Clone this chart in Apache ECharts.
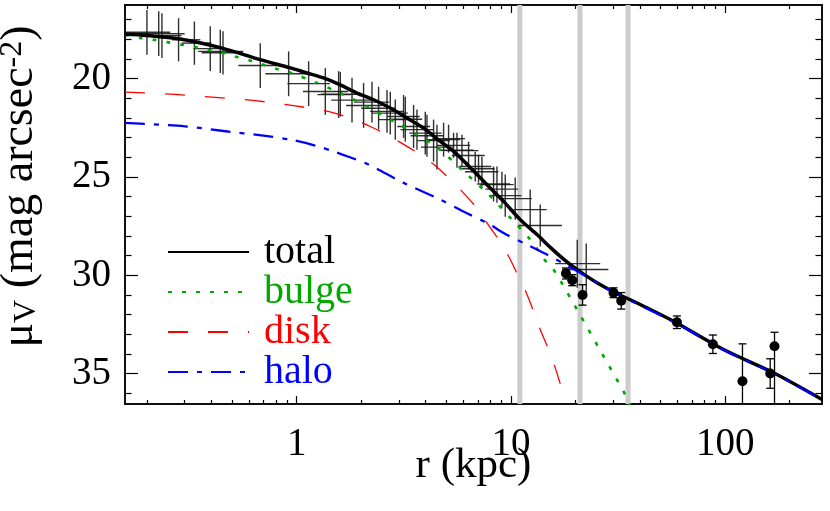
<!DOCTYPE html>
<html><head><meta charset="utf-8">
<script src="https://cdn.jsdelivr.net/npm/echarts@6/dist/echarts.min.js"></script>
<style>html,body{margin:0;padding:0;background:#fff}#c{width:830px;height:511px}</style>
</head><body><div id="c"></div>
<script>
// ---------- tick labels ----------
const xTickLabels = [1, 10, 100];
const xMinorTicks = [0.2,0.3,0.4,0.5,0.6,0.7,0.8,0.9,2,3,4,5,6,7,8,9,20,30,40,50,60,70,80,90,200];
const yTickLabels = [20, 25, 30, 35];
const yMinorTicks = [17,18,19,21,22,23,24,26,27,28,29,31,32,33,34,36];

// ---------- vertical grey bands (r in kpc) ----------
const bandR = [11.0, 21.0, 35.2];

// ---------- model curves ----------
const rTotal  = [0.158,0.2,0.286,0.44,0.676,0.934,1.117,1.334,1.598,1.911,2.284,2.734,3.272,3.909,4.68,5.40,6.5,7.73,9.24,11.05,13.22,15.26,17.6,19.6,22,25.2,30.1,40.1,57.4,98.2,168,283];
const muTotal = [17.74,17.80,17.98,18.42,19.03,19.45,19.71,19.96,20.31,20.73,21.07,21.49,22.00,22.51,23.19,23.70,24.55,25.39,26.24,27.17,27.93,28.58,29.18,29.58,29.97,30.38,30.84,31.49,32.34,33.78,34.96,36.32];

const rBulge  = [0.158,0.186,0.215,0.2525,0.291,0.3425,0.395,0.456,0.527,0.6073,0.70,0.809,0.934,1.244,1.655,2.165,2.833,3.642,4.594,5.907,8.154,10.11,12.30,14.72,15.81,20.32,26.11,34.15,35.8];
const muBulge = [17.76,17.93,18.02,18.15,18.27,18.41,18.56,18.69,18.90,19.08,19.29,19.51,19.69,20.22,20.81,21.46,22.17,22.85,23.55,24.63,26.06,27.17,28.18,29.37,29.71,31.74,33.83,36.07,36.6];

const rDisk  = [0.158,0.2714,0.417,0.641,0.967,1.487,2.205,3.272,4.28,5.03,5.91,6.81,7.73,8.75,9.75,10.73,11.79,12.75,13.70,14.98,16.10,17.11];
const muDisk = [20.68,20.80,20.95,21.12,21.37,21.74,22.43,23.44,24.29,24.97,25.73,26.49,27.34,28.18,29.03,29.96,30.89,31.83,32.76,33.78,34.71,35.64];

const rHalo  = [0.158,0.30,0.456,0.70,0.934,1.22,1.487,1.746,2.088,2.327,3.154,4.68,6.0,7.73,9.5,11.88,14.5,18.25,22,30.1,57.4,98.2,168,283];
const muHalo = [22.25,22.42,22.66,22.90,23.10,23.40,23.70,23.97,24.29,24.54,25.30,26.15,26.76,27.34,27.93,28.44,28.91,29.50,30.00,30.86,32.37,33.80,34.98,36.33];

// ---------- inner data (crosses) ----------
const rIn    = [0.200,0.227,0.235,0.281,0.333,0.395,0.440,0.453,0.676,0.917,1.137,1.360,1.569,1.598,1.812,2.052,2.246,2.411,2.639,2.734,2.885,3.154,3.213,3.512,3.642,3.982,4.055,4.354,4.516,4.848,5.115,5.397,5.598,5.907,6.340,6.813,7.059,7.322,8.295,8.604,9.078,9.406,10.47,12.30,13.70,20.39,22.46];
const muIn   = [17.64,17.71,17.81,18.02,18.19,18.47,18.61,18.68,19.33,19.75,20.25,20.65,20.81,20.79,21.09,21.36,21.19,21.50,21.66,21.75,22.08,21.92,22.06,22.43,22.59,22.77,22.90,23.15,23.48,23.10,23.05,23.39,23.64,23.66,23.91,24.47,24.58,24.73,25.36,25.39,25.62,25.95,26.10,26.66,27.47,29.41,29.71];
const muErrIn= [1.14,1.14,1.14,1.10,1.10,1.14,1.10,1.10,1.14,1.14,1.14,1.19,1.19,1.14,1.14,1.14,1.04,1.09,1.09,1.09,1.02,1.09,1.14,1.09,1.02,1.09,1.07,1.07,1.14,0.86,0.71,0.64,0.89,0.81,0.71,0.76,0.71,0.76,0.89,0.92,0.89,1.07,1.07,1.02,1.07,1.22,1.32];
const rLoIn  = [0.158,0.160,0.190,0.262,0.290,0.330,0.347,0.360,0.534,0.714,0.905,1.07,1.25,1.30,1.45,1.70,1.85,2.00,2.20,2.25,2.40,2.65,2.70,2.95,3.05,3.35,3.40,3.65,3.80,4.05,4.30,4.50,4.70,4.95,5.30,5.70,5.90,6.10,6.95,7.20,7.60,7.90,8.80,10.3,10.8,16.1,17.3];
const rHiIn  = [0.257,0.300,0.290,0.355,0.400,0.470,0.564,0.560,0.866,1.133,1.43,1.74,1.78,1.95,2.25,2.50,2.70,2.90,3.15,3.30,3.45,3.75,3.85,4.20,4.35,4.75,4.85,5.20,5.40,5.80,6.10,6.45,6.70,7.05,7.55,8.10,8.40,8.75,9.90,10.3,10.8,11.2,12.5,14.7,17.3,26.1,28.5];

// ---------- outer data (filled circles) ----------
const rOut    = [18.06,19.32,21.59,30.11,32.71,59.52,87.6,120.4,162.2,169.9];
const muOut   = [29.91,30.25,31.00,30.89,31.30,32.39,33.51,35.39,35.00,33.61];
const muLoOut = [29.63,29.97,30.48,30.64,30.88,32.07,33.04,33.49,34.25,32.90];
const muHiOut = [30.19,30.53,31.52,31.14,31.72,32.71,33.98,37.29,35.75,36.61];

// ---------- styles ----------
const FONT = 'Liberation Serif';
const GREEN = '#00a800';
const xMin = 0.158, xMax = 283, yMin = 16.25, yMax = 36.55;

const pairs = (a, b) => a.map((v, i) => [v, b[i]]);

function clampPt(p, cs) {
  return [Math.min(Math.max(p[0], cs.x), cs.x + cs.width), Math.min(Math.max(p[1], cs.y), cs.y + cs.height)];
}

const chart = echarts.init(document.getElementById('c'), null, {renderer: 'canvas'});

const axisLineStyle = {color: '#000', width: 1.5};
function xAxisDef(position, custom, len, withLabel) {
  return {
    type: 'log', logBase: 10, min: xMin, max: xMax, position: position,
    axisLine: {show: true, lineStyle: axisLineStyle},
    axisTick: {show: true, inside: true, length: len, customValues: custom, lineStyle: {color: '#000', width: 1.2}},
    axisLabel: withLabel ? {show: true, customValues: custom, formatter: v => String(Math.round(v)), fontFamily: FONT, fontSize: 39, color: '#000', margin: 21} : {show: false},
    splitLine: {show: false}, minorTick: {show: false}
  };
}
function yAxisDef(position, custom, len, withLabel) {
  return {
    type: 'value', inverse: true, min: yMin, max: yMax, position: position,
    axisLine: {show: true, lineStyle: axisLineStyle},
    axisTick: {show: true, inside: true, length: len, customValues: custom, lineStyle: {color: '#000', width: 1.2}},
    axisLabel: withLabel ? {show: true, customValues: custom, fontFamily: FONT, fontSize: 39, color: '#000', margin: 14} : {show: false},
    splitLine: {show: false}
  };
}

const xAxes = [
  xAxisDef('bottom', xTickLabels, 8, true),
  xAxisDef('bottom', xMinorTicks, 4, false),
  xAxisDef('top', xTickLabels, 8, false),
  xAxisDef('top', xMinorTicks, 4, false)
];
xAxes[0].name = 'r (kpc)';
xAxes[0].nameLocation = 'middle';
xAxes[0].nameGap = 40;
xAxes[0].nameMoveOverlap = false;
xAxes[0].nameTextStyle = {fontFamily: FONT, fontSize: 43, color: '#000'};

const yAxes = [
  yAxisDef('left', yTickLabels, 13, true),
  yAxisDef('left', yMinorTicks, 6.5, false),
  yAxisDef('right', yTickLabels, 13, false),
  yAxisDef('right', yMinorTicks, 6.5, false)
];
yAxes[0].name = '{a|μ}{b|V}{a| (mag arcsec}{c|-2}{a|)}';
yAxes[0].nameLocation = 'middle';
yAxes[0].nameRotate = 90;
yAxes[0].nameGap = 82;
yAxes[0].nameMoveOverlap = false;
yAxes[0].nameTextStyle = {
  fontFamily: FONT, fontSize: 46, color: '#000', padding: [0, 0, 0, 36],
  rich: {
    a: {fontFamily: FONT, fontSize: 46, color: '#000'},
    b: {fontFamily: FONT, fontSize: 32, color: '#000', verticalAlign: 'bottom'},
    c: {fontFamily: FONT, fontSize: 32, color: '#000', verticalAlign: 'top'}
  }
};

const option = {
  animation: false,
  backgroundColor: '#fff',
  grid: {left: 125, right: 8, top: 5, bottom: 107, containLabel: false, outerBoundsMode: 'none'},
  xAxis: xAxes,
  yAxis: yAxes,
  legend: {
    orient: 'vertical', left: 167, top: 232, padding: 0, itemGap: 0,
    itemWidth: 81, itemHeight: 14, selectedMode: false,
    itemStyle: {opacity: 0},
    textStyle: {fontFamily: FONT, fontSize: 40, lineHeight: 39, padding: [0, 0, 0, 10]},
    data: [
      {name: 'total', textStyle: {color: '#000'}},
      {name: 'bulge', textStyle: {color: GREEN}},
      {name: 'disk', textStyle: {color: '#ff0000'}},
      {name: 'halo', textStyle: {color: '#0000ff'}}
    ]
  },
  series: [
    {
      type: 'custom', name: 'bands', z: 1, silent: true,
      data: bandR.map(r => [r, yMin]),
      encode: {x: 0, y: 1},
      renderItem: function (params, api) {
        const cs = params.coordSys;
        const p = api.coord([api.value(0), yMin]);
        return {type: 'rect', shape: {x: p[0] - 2.5, y: cs.y, width: 5, height: cs.height}, style: {fill: '#cccccc'}};
      }
    },
    {
      type: 'custom', name: 'inner', z: 2, silent: true,
      data: rIn.map((r, i) => [r, muIn[i], rLoIn[i], rHiIn[i], muIn[i] - muErrIn[i], muIn[i] + muErrIn[i]]),
      encode: {x: 0, y: 1},
      renderItem: function (params, api) {
        const cs = params.coordSys;
        const l = clampPt(api.coord([api.value(2), api.value(1)]), cs);
        const h = clampPt(api.coord([api.value(3), api.value(1)]), cs);
        const t = clampPt(api.coord([api.value(0), api.value(4)]), cs);
        const b = clampPt(api.coord([api.value(0), api.value(5)]), cs);
        const st = {stroke: '#1a1a1a', lineWidth: 1.4, opacity: 0.9};
        return {type: 'group', children: [
          {type: 'line', shape: {x1: l[0], y1: l[1], x2: h[0], y2: h[1]}, style: st},
          {type: 'line', shape: {x1: t[0], y1: t[1], x2: b[0], y2: b[1]}, style: st}
        ]};
      }
    },
    {
      name: 'disk', type: 'line', z: 3, symbol: 'none', smooth: 0.3,
      data: pairs(rDisk, muDisk),
      lineStyle: {color: '#ff0000', width: 1.3, type: [20, 20]},
      itemStyle: {color: '#ff0000', opacity: 0}
    },
    {
      name: 'bulge', type: 'line', z: 3, symbol: 'none', smooth: 0.3,
      data: pairs(rBulge, muBulge),
      lineStyle: {color: GREEN, width: 2.6, type: [4, 10]},
      itemStyle: {color: GREEN, opacity: 0}
    },
    {
      name: 'total', type: 'line', z: 4, symbol: 'none', smooth: 0.3,
      data: pairs(rTotal, muTotal),
      lineStyle: {color: '#000', width: 3.5},
      itemStyle: {color: '#000', opacity: 0}
    },
    {
      name: 'halo', type: 'line', z: 5, symbol: 'none', smooth: 0.3,
      data: pairs(rHalo, muHalo),
      lineStyle: {color: '#0000ff', width: 2.3, type: [20, 9, 5, 9]},
      itemStyle: {color: '#0000ff', opacity: 0}
    },
    {
      type: 'custom', name: 'outerErr', z: 6, silent: true,
      data: rOut.map((r, i) => [r, muOut[i], muLoOut[i], muHiOut[i]]),
      encode: {x: 0, y: 1},
      renderItem: function (params, api) {
        const cs = params.coordSys;
        const top = api.coord([api.value(0), api.value(2)]);
        const bot = api.coord([api.value(0), api.value(3)]);
        const t = clampPt(top, cs), b = clampPt(bot, cs);
        const st = {stroke: '#000', lineWidth: 1.3};
        const ch = [{type: 'line', shape: {x1: t[0], y1: t[1], x2: b[0], y2: b[1]}, style: st}];
        if (top[1] >= cs.y && top[1] <= cs.y + cs.height) ch.push({type: 'line', shape: {x1: top[0] - 4, y1: top[1], x2: top[0] + 4, y2: top[1]}, style: st});
        if (bot[1] >= cs.y && bot[1] <= cs.y + cs.height) ch.push({type: 'line', shape: {x1: bot[0] - 4, y1: bot[1], x2: bot[0] + 4, y2: bot[1]}, style: st});
        return {type: 'group', children: ch};
      }
    },
    {
      type: 'scatter', name: 'outer', z: 7, silent: true,
      data: pairs(rOut, muOut),
      symbol: 'circle', symbolSize: 10,
      itemStyle: {color: '#000', opacity: 1}
    }
  ]
};
chart.setOption(option);
</script>
</body></html>
